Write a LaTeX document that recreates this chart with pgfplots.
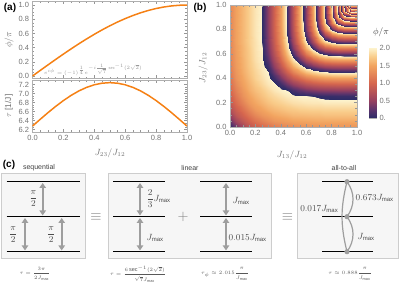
\documentclass[border=0pt]{standalone}
\usepackage{fontspec}
\setmainfont{Liberation Sans}
\usepackage{pgfplots}
\pgfplotsset{compat=1.18}
\usetikzlibrary{arrows.meta}
\definecolor{lineorange}{RGB}{245,128,20}
\definecolor{tickgray}{RGB}{150,150,150}
\definecolor{labgray}{RGB}{115,115,115}
\definecolor{framegray}{RGB}{175,175,175}
\definecolor{boxfill}{RGB}{246,246,246}
\definecolor{boxdraw}{RGB}{205,205,205}
\definecolor{arrgray}{RGB}{158,158,158}
\pgfplotsset{
  colormap={sunset}{rgb255(0cm)=(44,44,104) rgb255(0.25cm)=(94,52,108) rgb255(0.5cm)=(150,64,96) rgb255(1cm)=(214,102,78) rgb255(1.5cm)=(242,164,96) rgb255(1.75cm)=(249,204,138) rgb255(2cm)=(253,243,205)},
  colormap={sunrep}{
  rgb255(0cm)=(44,44,104) rgb255(0.25cm)=(94,52,108) rgb255(0.5cm)=(150,64,96) rgb255(1cm)=(214,102,78) rgb255(1.5cm)=(242,164,96) rgb255(1.75cm)=(249,204,138) rgb255(1.99cm)=(253,243,205)
  rgb255(2cm)=(44,44,104) rgb255(2.25cm)=(94,52,108) rgb255(2.5cm)=(150,64,96) rgb255(3cm)=(214,102,78) rgb255(3.5cm)=(242,164,96) rgb255(3.75cm)=(249,204,138) rgb255(3.99cm)=(253,243,205)
  rgb255(4cm)=(44,44,104) rgb255(4.25cm)=(94,52,108) rgb255(4.5cm)=(150,64,96) rgb255(5cm)=(214,102,78) rgb255(5.5cm)=(242,164,96) rgb255(5.75cm)=(249,204,138) rgb255(5.99cm)=(253,243,205)
  rgb255(6cm)=(44,44,104) rgb255(6.25cm)=(94,52,108) rgb255(6.5cm)=(150,64,96) rgb255(7cm)=(214,102,78) rgb255(7.5cm)=(242,164,96) rgb255(7.75cm)=(249,204,138) rgb255(7.99cm)=(253,243,205)
  rgb255(8cm)=(44,44,104) rgb255(8.25cm)=(94,52,108) rgb255(8.5cm)=(150,64,96) rgb255(9cm)=(214,102,78) rgb255(9.5cm)=(242,164,96) rgb255(9.75cm)=(249,204,138) rgb255(9.99cm)=(253,243,205)
  rgb255(10cm)=(44,44,104) rgb255(10.25cm)=(94,52,108) rgb255(10.5cm)=(150,64,96) rgb255(11cm)=(214,102,78) rgb255(11.5cm)=(242,164,96) rgb255(11.75cm)=(249,204,138) rgb255(11.99cm)=(253,243,205)
  rgb255(12cm)=(44,44,104) rgb255(12.25cm)=(94,52,108) rgb255(12.5cm)=(150,64,96) rgb255(13cm)=(214,102,78) rgb255(13.5cm)=(242,164,96) rgb255(13.75cm)=(249,204,138) rgb255(13.99cm)=(253,243,205)
  rgb255(14cm)=(44,44,104) rgb255(14.25cm)=(94,52,108) rgb255(14.5cm)=(150,64,96) rgb255(15cm)=(214,102,78) rgb255(15.5cm)=(242,164,96) rgb255(15.75cm)=(249,204,138) rgb255(15.99cm)=(253,243,205)
  rgb255(16cm)=(44,44,104) rgb255(16.25cm)=(94,52,108) rgb255(16.5cm)=(150,64,96) rgb255(17cm)=(214,102,78) rgb255(17.5cm)=(242,164,96) rgb255(17.75cm)=(249,204,138) rgb255(17.99cm)=(253,243,205)
  rgb255(18cm)=(44,44,104) rgb255(18.25cm)=(94,52,108) rgb255(18.5cm)=(150,64,96) rgb255(19cm)=(214,102,78) rgb255(19.5cm)=(242,164,96) rgb255(19.75cm)=(249,204,138) rgb255(19.99cm)=(253,243,205)
  rgb255(20cm)=(44,44,104) rgb255(20.25cm)=(94,52,108) rgb255(20.5cm)=(150,64,96) rgb255(21cm)=(214,102,78) rgb255(21.5cm)=(242,164,96) rgb255(21.75cm)=(249,204,138) rgb255(21.99cm)=(253,243,205)
  rgb255(22cm)=(44,44,104) rgb255(22.25cm)=(94,52,108) rgb255(22.5cm)=(150,64,96) rgb255(23cm)=(214,102,78) rgb255(23.5cm)=(242,164,96) rgb255(23.75cm)=(249,204,138) rgb255(24cm)=(253,243,205)},
  mma/.style={
    scale only axis, enlargelimits=false,
    axis line style={framegray, line width=0.5pt},
    tick style={tickgray, line width=0.4pt},
    major tick length=3pt, minor tick length=1.7pt,
    tick label style={font=\fontsize{7.5}{8}\selectfont, text=labgray},
    /pgf/number format/assume math mode=true,
    /pgf/number format/fixed, /pgf/number format/fixed zerofill, /pgf/number format/precision=1,
  },
}
\begin{document}
\begin{tikzpicture}
\useasboundingbox (0pt,0pt) rectangle (399pt,286pt);
% ---------------- (a) top
\begin{axis}[mma, at={(32.5pt,207.5pt)}, anchor=south west, width=154.5pt, height=77pt,
  xmin=0, xmax=1, ymin=-0.035, ymax=1.05,
  xtick={0,0.2,0.4,0.6,0.8,1}, xticklabels={}, minor x tick num=3,
  ytick={0,0.2,0.4,0.6,0.8,1}, minor y tick num=3]
\addplot[lineorange, line width=1.5pt] coordinates {
(0,0) (0.05,0.0785) (0.1,0.1564) (0.15,0.2334) (0.2,0.3090) (0.25,0.3827) (0.3,0.4540) (0.35,0.5225) (0.4,0.5878) (0.45,0.6494) (0.5,0.7071) (0.55,0.7604) (0.6,0.8090) (0.65,0.8526) (0.7,0.8910) (0.75,0.9239) (0.8,0.9511) (0.85,0.9724) (0.9,0.9877) (0.95,0.9969) (1,1)};
\end{axis}
\node[anchor=west, text=black!40, font=\fontsize{5.5}{6}\selectfont, inner sep=0pt] at (44pt,216pt) {$e^{i\phi}=(-1)^{\frac14}e^{-i\frac{1}{\sqrt7}\sec^{-1}(2\sqrt2)}$};
% ---------------- (a) bottom
\begin{axis}[mma, at={(32.5pt,154pt)}, anchor=south west, width=154.5pt, height=51.5pt,
  xmin=0, xmax=1, ymin=6.149, ymax=7.293,
  xtick={0,0.2,0.4,0.6,0.8,1}, minor x tick num=3,
  ytick={6.2,6.4,6.6,6.8,7.0,7.2}, minor y tick num=3]
\addplot[lineorange, line width=1.5pt] coordinates {
(0,6.280) (0.05,6.431) (0.1,6.578) (0.15,6.718) (0.2,6.847) (0.25,6.962) (0.3,7.061) (0.35,7.140) (0.4,7.198) (0.45,7.233) (0.5,7.245) (0.55,7.233) (0.6,7.198) (0.65,7.140) (0.7,7.061) (0.75,6.962) (0.8,6.847) (0.85,6.718) (0.9,6.578) (0.95,6.431) (1,6.280)};
\end{axis}
\node[rotate=90, text=labgray, font=\fontsize{9}{10}\selectfont] at (9pt,246pt) {$\phi/\pi$};
\node[rotate=90, text=labgray, font=\fontsize{8.5}{10}\selectfont] at (9pt,180pt) {$\tau$ [1/J]};
\node[text=labgray, font=\fontsize{9}{10}\selectfont] at (110pt,133pt) {$J_{23}/J_{12}$};
\node[font=\bfseries\fontsize{10}{11}\selectfont] at (10pt,278pt) {(a)};
% ---------------- (b)
\begin{axis}[mma, at={(230pt,159pt)}, anchor=south west, width=127pt, height=122pt,
  xmin=0, xmax=1, ymin=0, ymax=1, axis on top,
  xtick={0,0.2,0.4,0.6,0.8,1}, minor x tick num=3,
  ytick={0,0.2,0.4,0.6,0.8,1}, minor y tick num=3,
  colormap name=sunrep, point meta min=0, point meta max=24]
\addplot[surf, shader=interp, mesh/cols=21, point meta=explicit] coordinates {
(0,0)[0.00] (0.05,0)[0.32] (0.1,0)[0.58] (0.15,0)[0.79] (0.2,0)[0.90] (0.25,0)[1.01] (0.3,0)[1.09] (0.35,0)[1.17] (0.4,0)[1.22] (0.45,0)[1.27] (0.5,0)[1.30] (0.55,0)[1.34] (0.6,0)[1.35] (0.65,0)[1.37] (0.7,0)[1.37] (0.75,0)[1.38] (0.8,0)[1.38] (0.85,0)[1.38] (0.9,0)[1.38] (0.95,0)[1.38] (1,0)[1.38]
(0,0.05)[0.29] (0.05,0.05)[0.60] (0.1,0.05)[0.82] (0.15,0.05)[0.96] (0.2,0.05)[1.10] (0.25,0.05)[1.21] (0.3,0.05)[1.30] (0.35,0.05)[1.38] (0.4,0.05)[1.42] (0.45,0.05)[1.45] (0.5,0.05)[1.49] (0.55,0.05)[1.50] (0.6,0.05)[1.51] (0.65,0.05)[1.52] (0.7,0.05)[1.53] (0.75,0.05)[1.53] (0.8,0.05)[1.53] (0.85,0.05)[1.53] (0.9,0.05)[1.53] (0.95,0.05)[1.53] (1,0.05)[1.53]
(0,0.1)[0.53] (0.05,0.1)[0.81] (0.1,0.1)[0.97] (0.15,0.1)[1.13] (0.2,0.1)[1.27] (0.25,0.1)[1.39] (0.3,0.1)[1.45] (0.35,0.1)[1.52] (0.4,0.1)[1.56] (0.45,0.1)[1.59] (0.5,0.1)[1.63] (0.55,0.1)[1.64] (0.6,0.1)[1.65] (0.65,0.1)[1.66] (0.7,0.1)[1.66] (0.75,0.1)[1.68] (0.8,0.1)[1.68] (0.85,0.1)[1.68] (0.9,0.1)[1.68] (0.95,0.1)[1.68] (1,0.1)[1.68]
(0,0.15)[0.72] (0.05,0.15)[0.93] (0.1,0.15)[1.11] (0.15,0.15)[1.28] (0.2,0.15)[1.42] (0.25,0.15)[1.50] (0.3,0.15)[1.58] (0.35,0.15)[1.63] (0.4,0.15)[1.68] (0.45,0.15)[1.72] (0.5,0.15)[1.74] (0.55,0.15)[1.77] (0.6,0.15)[1.78] (0.65,0.15)[1.79] (0.7,0.15)[1.79] (0.75,0.15)[1.80] (0.8,0.15)[1.80] (0.85,0.15)[1.80] (0.9,0.15)[1.80] (0.95,0.15)[1.80] (1,0.15)[1.80]
(0,0.2)[0.84] (0.05,0.2)[1.05] (0.1,0.2)[1.24] (0.15,0.2)[1.41] (0.2,0.2)[1.51] (0.25,0.2)[1.60] (0.3,0.2)[1.68] (0.35,0.2)[1.74] (0.4,0.2)[1.78] (0.45,0.2)[1.82] (0.5,0.2)[1.86] (0.55,0.2)[1.88] (0.6,0.2)[1.90] (0.65,0.2)[1.91] (0.7,0.2)[1.91] (0.75,0.2)[1.93] (0.8,0.2)[1.93] (0.85,0.2)[1.93] (0.9,0.2)[1.93] (0.95,0.2)[1.93] (1,0.2)[1.93]
(0,0.25)[0.93] (0.05,0.25)[1.15] (0.1,0.25)[1.36] (0.15,0.25)[1.49] (0.2,0.25)[1.59] (0.25,0.25)[1.69] (0.3,0.25)[1.77] (0.35,0.25)[1.82] (0.4,0.25)[1.88] (0.45,0.25)[1.93] (0.5,0.25)[1.96] (0.55,0.25)[1.99] (0.6,0.25)[1.99] (0.65,0.25)[2.00] (0.7,0.25)[2.03] (0.75,0.25)[2.05] (0.8,0.25)[2.06] (0.85,0.25)[2.07] (0.9,0.25)[2.07] (0.95,0.25)[2.07] (1,0.25)[2.07]
(0,0.3)[1.01] (0.05,0.3)[1.23] (0.1,0.3)[1.42] (0.15,0.3)[1.56] (0.2,0.3)[1.66] (0.25,0.3)[1.75] (0.3,0.3)[1.83] (0.35,0.3)[1.91] (0.4,0.3)[1.97] (0.45,0.3)[2.00] (0.5,0.3)[2.15] (0.55,0.3)[2.27] (0.6,0.3)[2.36] (0.65,0.3)[2.42] (0.7,0.3)[2.46] (0.75,0.3)[2.48] (0.8,0.3)[2.49] (0.85,0.3)[2.50] (0.9,0.3)[2.50] (0.95,0.3)[2.50] (1,0.3)[2.50]
(0,0.35)[1.07] (0.05,0.35)[1.30] (0.1,0.35)[1.48] (0.15,0.35)[1.60] (0.2,0.35)[1.72] (0.25,0.35)[1.82] (0.3,0.35)[1.91] (0.35,0.35)[1.97] (0.4,0.35)[2.11] (0.45,0.35)[2.33] (0.5,0.35)[2.51] (0.55,0.35)[2.66] (0.6,0.35)[2.78] (0.65,0.35)[2.86] (0.7,0.35)[2.91] (0.75,0.35)[2.94] (0.8,0.35)[2.96] (0.85,0.35)[2.97] (0.9,0.35)[2.97] (0.95,0.35)[2.97] (1,0.35)[2.97]
(0,0.4)[1.12] (0.05,0.4)[1.37] (0.1,0.4)[1.52] (0.15,0.4)[1.65] (0.2,0.4)[1.78] (0.25,0.4)[1.87] (0.3,0.4)[1.96] (0.35,0.4)[2.09] (0.4,0.4)[2.38] (0.45,0.4)[2.64] (0.5,0.4)[2.87] (0.55,0.4)[3.06] (0.6,0.4)[3.21] (0.65,0.4)[3.32] (0.7,0.4)[3.39] (0.75,0.4)[3.44] (0.8,0.4)[3.46] (0.85,0.4)[3.47] (0.9,0.4)[3.47] (0.95,0.4)[3.47] (1,0.4)[3.47]
(0,0.45)[1.17] (0.05,0.45)[1.40] (0.1,0.45)[1.56] (0.15,0.45)[1.69] (0.2,0.45)[1.80] (0.25,0.45)[1.91] (0.3,0.45)[1.99] (0.35,0.45)[2.30] (0.4,0.45)[2.63] (0.45,0.45)[2.94] (0.5,0.45)[3.23] (0.55,0.45)[3.47] (0.6,0.45)[3.67] (0.65,0.45)[3.81] (0.7,0.45)[3.91] (0.75,0.45)[3.97] (0.8,0.45)[4.03] (0.85,0.45)[4.04] (0.9,0.45)[4.05] (0.95,0.45)[4.05] (1,0.45)[4.05]
(0,0.5)[1.21] (0.05,0.5)[1.43] (0.1,0.5)[1.58] (0.15,0.5)[1.72] (0.2,0.5)[1.83] (0.25,0.5)[1.94] (0.3,0.5)[2.10] (0.35,0.5)[2.48] (0.4,0.5)[2.85] (0.45,0.5)[3.22] (0.5,0.5)[3.56] (0.55,0.5)[3.87] (0.6,0.5)[4.17] (0.65,0.5)[4.39] (0.7,0.5)[4.54] (0.75,0.5)[4.64] (0.8,0.5)[4.69] (0.85,0.5)[4.71] (0.9,0.5)[4.71] (0.95,0.5)[4.71] (1,0.5)[4.71]
(0,0.55)[1.23] (0.05,0.55)[1.44] (0.1,0.55)[1.59] (0.15,0.55)[1.73] (0.2,0.55)[1.86] (0.25,0.55)[1.96] (0.3,0.55)[2.21] (0.35,0.55)[2.62] (0.4,0.55)[3.04] (0.45,0.55)[3.46] (0.5,0.55)[3.87] (0.55,0.55)[4.30] (0.6,0.55)[4.67] (0.65,0.55)[4.97] (0.7,0.55)[5.19] (0.75,0.55)[5.34] (0.8,0.55)[5.41] (0.85,0.55)[5.44] (0.9,0.55)[5.45] (0.95,0.55)[5.45] (1,0.55)[5.45]
(0,0.6)[1.24] (0.05,0.6)[1.45] (0.1,0.6)[1.61] (0.15,0.6)[1.74] (0.2,0.6)[1.87] (0.25,0.6)[1.97] (0.3,0.6)[2.30] (0.35,0.6)[2.73] (0.4,0.6)[3.19] (0.45,0.6)[3.65] (0.5,0.6)[4.16] (0.55,0.6)[4.68] (0.6,0.6)[5.15] (0.65,0.6)[5.56] (0.7,0.6)[5.88] (0.75,0.6)[6.09] (0.8,0.6)[6.21] (0.85,0.6)[6.26] (0.9,0.6)[6.27] (0.95,0.6)[6.27] (1,0.6)[6.27]
(0,0.65)[1.26] (0.05,0.65)[1.46] (0.1,0.65)[1.61] (0.15,0.65)[1.75] (0.2,0.65)[1.88] (0.25,0.65)[1.99] (0.3,0.65)[2.36] (0.35,0.65)[2.82] (0.4,0.65)[3.30] (0.45,0.65)[3.81] (0.5,0.65)[4.40] (0.55,0.65)[5.00] (0.6,0.65)[5.59] (0.65,0.65)[6.13] (0.7,0.65)[6.58] (0.75,0.65)[6.90] (0.8,0.65)[7.09] (0.85,0.65)[7.19] (0.9,0.65)[7.21] (0.95,0.65)[7.21] (1,0.65)[7.21]
(0,0.7)[1.26] (0.05,0.7)[1.48] (0.1,0.7)[1.63] (0.15,0.7)[1.77] (0.2,0.7)[1.88] (0.25,0.7)[2.00] (0.3,0.7)[2.40] (0.35,0.7)[2.87] (0.4,0.7)[3.38] (0.45,0.7)[3.91] (0.5,0.7)[4.57] (0.55,0.7)[5.24] (0.6,0.7)[5.94] (0.65,0.7)[6.62] (0.7,0.7)[7.26] (0.75,0.7)[7.77] (0.8,0.7)[8.08] (0.85,0.7)[8.23] (0.9,0.7)[8.29] (0.95,0.7)[8.29] (1,0.7)[8.29]
(0,0.75)[1.27] (0.05,0.75)[1.48] (0.1,0.75)[1.63] (0.15,0.75)[1.77] (0.2,0.75)[1.90] (0.25,0.75)[2.00] (0.3,0.75)[2.43] (0.35,0.75)[2.91] (0.4,0.75)[3.42] (0.45,0.75)[4.01] (0.5,0.75)[4.68] (0.55,0.75)[5.40] (0.6,0.75)[6.19] (0.65,0.75)[7.01] (0.7,0.75)[7.85] (0.75,0.75)[8.60] (0.8,0.75)[9.16] (0.85,0.75)[9.46] (0.9,0.75)[9.55] (0.95,0.75)[9.57] (1,0.75)[9.57]
(0,0.8)[1.27] (0.05,0.8)[1.48] (0.1,0.8)[1.63] (0.15,0.8)[1.77] (0.2,0.8)[1.90] (0.25,0.8)[2.00] (0.3,0.8)[2.44] (0.35,0.8)[2.93] (0.4,0.8)[3.45] (0.45,0.8)[4.05] (0.5,0.8)[4.74] (0.55,0.8)[5.50] (0.6,0.8)[6.35] (0.65,0.8)[7.27] (0.7,0.8)[8.29] (0.75,0.8)[9.33] (0.8,0.8)[10.26] (0.85,0.8)[10.87] (0.9,0.8)[11.10] (0.95,0.8)[11.13] (1,0.8)[11.13]
(0,0.85)[1.27] (0.05,0.85)[1.48] (0.1,0.85)[1.63] (0.15,0.85)[1.77] (0.2,0.85)[1.90] (0.25,0.85)[2.00] (0.3,0.85)[2.45] (0.35,0.85)[2.94] (0.4,0.85)[3.47] (0.45,0.85)[4.07] (0.5,0.85)[4.77] (0.55,0.85)[5.55] (0.6,0.85)[6.43] (0.65,0.85)[7.41] (0.7,0.85)[8.55] (0.75,0.85)[9.82] (0.8,0.85)[11.20] (0.85,0.85)[12.43] (0.9,0.85)[13.04] (0.95,0.85)[13.14] (1,0.85)[13.14]
(0,0.9)[1.27] (0.05,0.9)[1.48] (0.1,0.9)[1.63] (0.15,0.9)[1.77] (0.2,0.9)[1.90] (0.25,0.9)[2.00] (0.3,0.9)[2.45] (0.35,0.9)[2.94] (0.4,0.9)[3.47] (0.45,0.9)[4.08] (0.5,0.9)[4.78] (0.55,0.9)[5.57] (0.6,0.9)[6.46] (0.65,0.9)[7.46] (0.7,0.9)[8.65] (0.75,0.9)[10.04] (0.8,0.9)[11.74] (0.85,0.9)[13.76] (0.9,0.9)[15.53] (0.95,0.9)[15.97] (1,0.9)[15.96]
(0,0.95)[1.27] (0.05,0.95)[1.48] (0.1,0.95)[1.63] (0.15,0.95)[1.77] (0.2,0.95)[1.90] (0.25,0.95)[2.00] (0.3,0.95)[2.45] (0.35,0.95)[2.94] (0.4,0.95)[3.47] (0.45,0.95)[4.08] (0.5,0.95)[4.79] (0.55,0.95)[5.58] (0.6,0.95)[6.47] (0.65,0.95)[7.48] (0.7,0.95)[8.67] (0.75,0.95)[10.10] (0.8,0.95)[11.89] (0.85,0.95)[14.31] (0.9,0.95)[17.78] (0.95,0.95)[20.76] (1,0.95)[20.57]
(0,1)[1.27] (0.05,1)[1.48] (0.1,1)[1.63] (0.15,1)[1.77] (0.2,1)[1.90] (0.25,1)[2.00] (0.3,1)[2.45] (0.35,1)[2.94] (0.4,1)[3.47] (0.45,1)[4.08] (0.5,1)[4.79] (0.55,1)[5.58] (0.6,1)[6.47] (0.65,1)[7.48] (0.7,1)[8.67] (0.75,1)[10.10] (0.8,1)[11.90] (0.85,1)[14.35] (0.9,1)[18.12] (0.95,1)[24.00] (1,1)[24.00]
};
\end{axis}
% colorbar
\begin{axis}[mma, at={(369pt,168pt)}, anchor=south west, width=7pt, height=70pt,
  xmin=0, xmax=1, ymin=0, ymax=2, xtick=\empty,
  ytick={0,0.5,1,1.5,2}, yticklabels={0.,0.5,1.0,1.5,2.0},
  yticklabel pos=right, ytick pos=right, minor y tick num=0,
  colormap name=sunset, point meta min=0, point meta max=2]
\addplot[surf, shader=interp, mesh/cols=2, point meta=explicit] coordinates {(0,0)[0] (1,0)[0] (0,2)[2] (1,2)[2]};
\end{axis}
\node[text=black!75, font=\fontsize{9.5}{10}\selectfont] at (381pt,254pt) {$\phi/\pi$};
\node[rotate=90, text=labgray, font=\fontsize{9}{10}\selectfont] at (203pt,218pt) {$J_{23}/J_{12}$};
\node[text=labgray, font=\fontsize{9}{10}\selectfont] at (292pt,131pt) {$J_{13}/J_{12}$};
\node[font=\bfseries\fontsize{10}{11}\selectfont] at (200pt,278pt) {(b)};
% ---------------- (c)
\node[font=\bfseries\fontsize{10}{11}\selectfont] at (9pt,121pt) {(c)};
\tikzset{lvl/.style={line width=1.6pt, black},
  dblarr/.style={arrgray, line width=2pt, {Triangle[width=6.5pt,length=5pt]}-{Triangle[width=6.5pt,length=5pt]}},
  ttl/.style={text=black!75, font=\fontsize{7}{8}\selectfont},
  lab/.style={text=black!70, font=\fontsize{9}{10}\selectfont, inner sep=0.5pt},
  frm/.style={text=black!65, font=\fontsize{5.5}{6}\selectfont}}
\filldraw[fill=boxfill, draw=boxdraw, line width=0.8pt] (1.7pt,27.7pt) rectangle (85pt,112.7pt);
\filldraw[fill=boxfill, draw=boxdraw, line width=0.8pt] (108.3pt,27.7pt) rectangle (271.7pt,112.7pt);
\filldraw[fill=boxfill, draw=boxdraw, line width=0.8pt] (297pt,27.7pt) rectangle (398pt,112.7pt);
\node[ttl] at (39pt,118pt) {sequential};
\node[ttl] at (190pt,118pt) {linear};
\node[ttl] at (344pt,118pt) {all-to-all};
\foreach \yy in {104.3,69.3,34.3} {
  \draw[lvl] (6.7pt,\yy pt) -- (80pt,\yy pt);
  \draw[lvl] (113pt,\yy pt) -- (165pt,\yy pt);
  \draw[lvl] (200pt,\yy pt) -- (252pt,\yy pt);
  \draw[lvl] (322pt,\yy pt) -- (373pt,\yy pt);
}
% sequential
\draw[dblarr] (42.7pt,103pt) -- (42.7pt,70.6pt);
\draw[dblarr] (25pt,68pt) -- (25pt,35.6pt);
\draw[dblarr] (61.7pt,68pt) -- (61.7pt,35.6pt);
\node[lab] at (33.5pt,87pt) {$\displaystyle\frac{\pi}{2}$};
\node[lab] at (13.3pt,51.5pt) {$\displaystyle\frac{\pi}{2}$};
\node[lab] at (51.2pt,51.5pt) {$\displaystyle\frac{\pi}{2}$};
\node[text=black!50, font=\fontsize{15}{15}\selectfont] at (96pt,69.3pt) {$\equiv$};
% linear
\draw[dblarr] (140pt,103pt) -- (140pt,70.6pt);
\draw[dblarr] (140pt,68pt) -- (140pt,35.6pt);
\node[lab, anchor=west] at (146pt,87pt) {$\displaystyle\frac{2}{3}J_{\max}$};
\node[lab, anchor=west] at (146pt,48pt) {$J_{\max}$};
\node[text=black!50, font=\fontsize{15}{15}\selectfont] at (183pt,69.3pt) {$+$};
\draw[dblarr] (226pt,103pt) -- (226pt,70.6pt);
\draw[dblarr] (226pt,68pt) -- (226pt,35.6pt);
\node[lab, anchor=west] at (232pt,85pt) {$J_{\max}$};
\node[lab, anchor=west] at (228pt,48pt) {$0.015J_{\max}$};
\node[text=black!50, font=\fontsize{15}{15}\selectfont] at (287.5pt,69.3pt) {$\equiv$};
% all-to-all
\draw[arrgray, line width=1.2pt] (347pt,104.3pt) to[bend right=14] (347pt,34.3pt);
\draw[arrgray, line width=1.2pt] (347pt,104.3pt) to[bend left=36] (347pt,69.3pt);
\draw[arrgray, line width=1.2pt] (347pt,69.3pt) to[bend left=36] (347pt,34.3pt);
\fill[arrgray] (347pt,104.3pt) circle (2.6pt);
\fill[arrgray] (347pt,69.3pt) circle (2.6pt);
\fill[arrgray] (347pt,34.3pt) circle (2.6pt);
\node[lab, anchor=east] at (339pt,77pt) {$0.017J_{\max}$};
\node[lab, anchor=west] at (355pt,88pt) {$0.673J_{\max}$};
\node[lab, anchor=west] at (357pt,49pt) {$J_{\max}$};
% formulas
\node[frm] at (35pt,12pt) {$\tau=\displaystyle\frac{3\pi}{2J_{\max}}$};
\node[frm] at (138pt,12pt) {$\tau=\displaystyle\frac{6\sec^{-1}(2\sqrt{2})}{\sqrt{7}J_{\max}}$};
\node[frm] at (225pt,12pt) {$\tau_\phi\approx 2.015\displaystyle\frac{\pi}{J_{\max}}$};
\node[frm] at (350pt,12pt) {$\tau\approx 0.888\displaystyle\frac{\pi}{J_{\max}}$};
\end{tikzpicture}
\end{document}
